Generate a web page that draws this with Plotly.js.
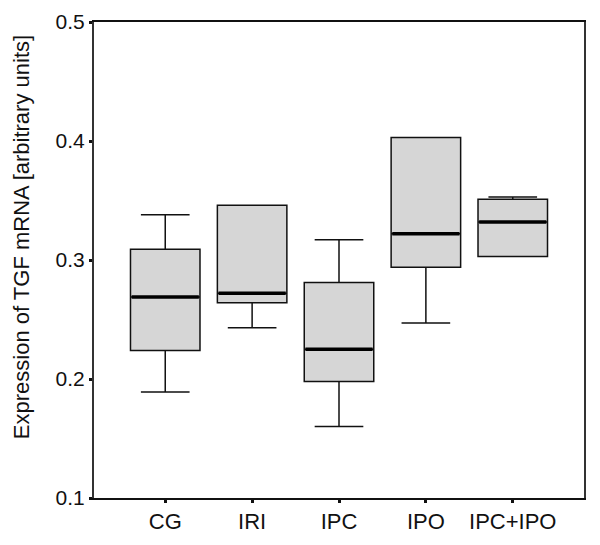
<!DOCTYPE html>
<html>
<head>
<meta charset="utf-8">
<script src="https://cdn.plot.ly/plotly-3.0.1.min.js"></script>
<style>
  body { margin: 0; background: #fff; }
  #chart { width: 600px; height: 545px; }
</style>
</head>
<body>
<div id="chart"></div>
<script>
// Données
const groups = ["CG", "IRI", "IPC", "IPO", "IPC+IPO"];
const lowerWhisker = [0.189, 0.243, 0.160, 0.247, 0.303];
const q1Values = [0.224, 0.264, 0.198, 0.294, 0.303];
const medianValues = [0.269, 0.272, 0.225, 0.322, 0.332];
const q3Values = [0.309, 0.346, 0.281, 0.403, 0.351];
const upperWhisker = [0.338, 0.346, 0.317, 0.403, 0.353];
const yTicks = [0.1, 0.2, 0.3, 0.4, 0.5];
const yTitle = "Expression of TGF mRNA [arbitrary units]";

const boxTrace = {
  type: "box",
  x: groups,
  q1: q1Values,
  median: medianValues,
  q3: q3Values,
  lowerfence: lowerWhisker,
  upperfence: upperWhisker,
  width: 0.8,
  whiskerwidth: 0.7,
  fillcolor: "#d6d6d6",
  line: { color: "#111", width: 1.5 },
  boxpoints: false,
  hoverinfo: "skip",
  showlegend: false
};

// Trait épais pour la médiane
const medianTrace = {
  type: "scatter",
  mode: "markers",
  x: groups,
  y: medianValues,
  marker: {
    symbol: "line-ew",
    size: 48,
    line: { color: "#000", width: 3.5 }
  },
  hoverinfo: "skip",
  showlegend: false
};

const layout = {
  width: 600,
  height: 545,
  margin: { l: 94, r: 16, t: 22, b: 47 },
  paper_bgcolor: "#fff",
  plot_bgcolor: "#fff",
  font: { family: "Liberation Sans, Arial, sans-serif", color: "#111" },
  xaxis: {
    type: "category",
    range: [-0.82, 4.82],
    showline: true,
    linecolor: "#111",
    linewidth: 2,
    mirror: true,
    showgrid: false,
    zeroline: false,
    ticks: "outside",
    ticklen: 3,
    tickwidth: 3,
    tickcolor: "#111",
    tickfont: { size: 22 },
    fixedrange: true
  },
  yaxis: {
    range: [0.1, 0.5],
    tickvals: yTicks,
    ticktext: yTicks.map(v => v.toFixed(1)),
    showline: true,
    linecolor: "#333",
    linewidth: 2,
    mirror: true,
    showgrid: false,
    zeroline: false,
    ticks: "outside",
    ticklen: 3,
    tickwidth: 3,
    tickcolor: "#111",
    tickfont: { size: 21 },
    fixedrange: true
  },
  // Titre de l'axe Y placé à la main (un peu au-dessus du centre)
  annotations: [{
    text: yTitle,
    textangle: -90,
    xref: "paper",
    yref: "paper",
    x: -0.149,
    y: 0.548,
    xanchor: "center",
    yanchor: "middle",
    showarrow: false,
    font: { size: 22 }
  }]
};

Plotly.newPlot("chart", [boxTrace, medianTrace], layout, { displayModeBar: false, staticPlot: true });
</script>
</body>
</html>
